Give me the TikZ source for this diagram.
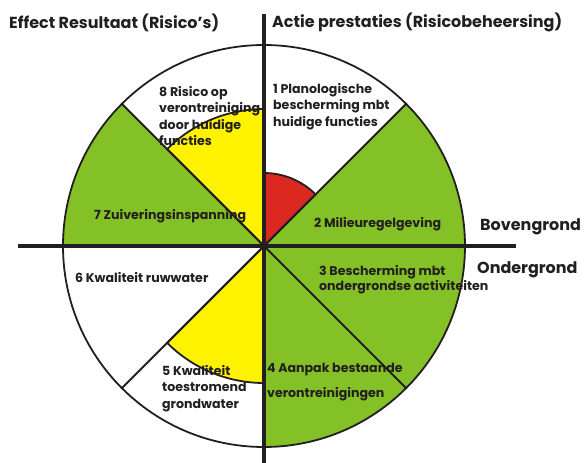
\documentclass[tikz,border=0pt]{standalone}
\usepackage{fontspec}
\setmainfont{Poppins}
\usetikzlibrary{calc}
\definecolor{grn}{RGB}{132,193,38}
\definecolor{ylw}{RGB}{255,242,0}
\definecolor{rd}{RGB}{219,40,32}
\definecolor{ink}{RGB}{35,31,32}
\newlength\calwa
\newlength\calwb
\begin{document}%
\settowidth\calwa{\bfseries\fontsize{10}{12}\selectfont 2 Milieuregelgeving7 Zuiveringsinspanningondergrondse activiteiten1 Planologische}%
\settowidth\calwb{\bfseries\fontsize{10}{12}\selectfont Effect Resultaat (Risico’s)Actie prestaties (Risicobeheersing)BovengrondOndergrond}%
\pgfmathsetmacro\lsz{10*547/\calwa}\global\let\lsz\lsz%
\pgfmathsetmacro\tsz{10*701/\calwb}\global\let\tsz\tsz%
\begin{tikzpicture}[x=1pt,y=1pt,
  lbl/.style={anchor=north west,inner sep=0pt,align=left,text=ink,font=\bfseries\fontsize{\lsz}{16.5}\selectfont},
  lbl1/.style={anchor=west,inner sep=0pt,text=ink,font=\bfseries\fontsize{\lsz}{16.5}\selectfont},
  ttl/.style={anchor=west,inner sep=0pt,text=ink,font=\bfseries\fontsize{\tsz}{18}\selectfont},
  rim/.style={draw=ink,line width=1.8pt},
  axis/.style={draw=ink,line width=3.5pt}]
\useasboundingbox (-264,-217) rectangle (320,246);
\coordinate (c) at (0,0);
\def\R{201}
\def\r{137}
% green sectors
\foreach \a/\b in {0/45,-45/0,-90/-45,135/180}{
  \fill[grn] (c) -- ($(c)+(\a:\R)$) arc[start angle=\a,end angle=\b,radius=\R] -- cycle;
}
% partial wedges
\draw[rim,fill=ylw] (c) -- ($(c)+(90:\r)$) arc[start angle=90,end angle=135,radius=\r] -- cycle;
\draw[rim,fill=ylw] (c) -- ($(c)+(-135:\r)$) arc[start angle=-135,end angle=-90,radius=\r] -- cycle;
\draw[rim,fill=rd] (c) -- ($(c)+(45:73)$) arc[start angle=45,end angle=90,radius=73] -- cycle;
% outer circle and diagonals
\draw[rim] (c) circle[radius=\R];
\coordinate (d1) at ($(c)+(45:\R)$);
\coordinate (d2) at ($(c)+(225:\R)$);
\coordinate (d3) at ($(c)+(135:\R)$);
\coordinate (d4) at ($(c)+(-45:\R)$);
\draw[rim] (d1) -- (d2);
\draw[rim] (d3) -- (d4);
% axes
\coordinate (vt) at (0,232);
\coordinate (vb) at (0,-217);
\coordinate (hl) at (-246,0);
\coordinate (hr) at (252,0);
\draw[axis] (vt) -- (vb);
\draw[axis] (hl) -- (hr);
% titles
\node[ttl] (t1) at (-255,223) {Effect Resultaat (Risico’s)};
\node[ttl] (t2) at (8,224) {Actie prestaties (Risicobeheersing)};
\node[ttl] (t3) at (216,19) {Bovengrond};
\node[ttl] (t4) at (213,-24) {Ondergrond};
% labels
\node[lbl] (l1) at (9,163) {1 Planologische\\bescherming mbt\\huidige functies};
\node[lbl1] (l2) at (50,22) {2 Milieuregelgeving};
\node[lbl,font=\bfseries\fontsize{\lsz}{15}\selectfont] (l3) at (55,-19) {3 Bescherming mbt\\ondergrondse activiteiten};
\node[lbl,font=\bfseries\fontsize{\lsz}{24.5}\selectfont] (l4) at (3,-117) {4 Aanpak bestaande\\verontreinigingen};
\node[lbl] (l5) at (-102,-119) {5 Kwaliteit\\toestromend\\grondwater};
\node[lbl1] (l6) at (-189,-32) {6 Kwaliteit ruwwater};
\node[lbl1] (l7) at (-170,30) {7 Zuiveringsinspanning};
\node[lbl] (l8) at (-105,160) {8 Risico op\\verontreiniging\\door huidige\\functies};
\end{tikzpicture}%
\end{document}
